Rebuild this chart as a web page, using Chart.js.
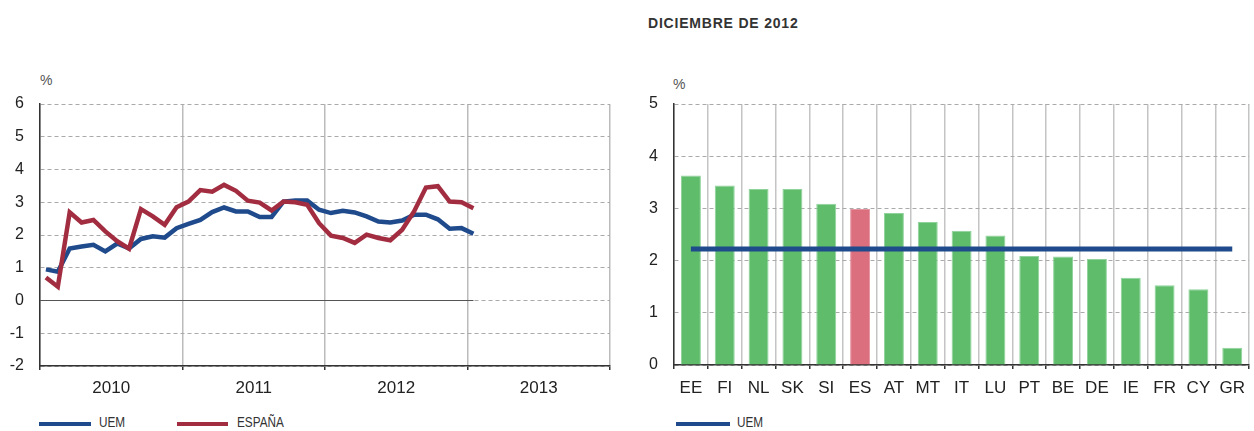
<!DOCTYPE html>
<html>
<head>
  <meta charset="utf-8">
  <title>Inflación UEM / España</title>
  <script src="https://cdn.jsdelivr.net/npm/chart.js"></script>
  <style>
    body { margin: 0; background: #fff; width: 1254px; height: 431px; position: relative; overflow: hidden;
           font-family: "Liberation Sans", Arial, sans-serif; color: #222; }
    canvas { position: absolute; top: 0; }
    .txt { position: absolute; white-space: nowrap; }
    .pct { font-size: 14px; color: #555; }
    .leg { font-size: 14px; color: #333; transform: scaleX(0.84); transform-origin: left center; }
    .sw { position: absolute; height: 4px; }
  </style>
</head>
<body>
  <div class="txt" style="left:648px; top:15px; font-size:14px; font-weight:bold; color:#333; letter-spacing:0.8px;">DICIEMBRE DE 2012</div>
  <div class="txt pct" style="left:40px; top:72px;">%</div>
  <div class="txt pct" style="left:673px; top:76px;">%</div>

  <canvas id="evolucion" width="625" height="400" style="left:0px;"></canvas>
  <canvas id="paises" width="624" height="400" style="left:630px;"></canvas>

  <div class="sw" style="left:39px; top:422px; width:52px; background:#1f4a8c;"></div>
  <div class="txt leg" style="left:99px; top:414px;">UEM</div>
  <div class="sw" style="left:177px; top:422px; width:51px; background:#a32d40;"></div>
  <div class="txt leg" style="left:237px; top:414px;">ESPAÑA</div>
  <div class="sw" style="left:676px; top:422px; width:54px; background:#1f4a8c;"></div>
  <div class="txt leg" style="left:737px; top:414px;">UEM</div>

  <script>
    // serie mensual, ene 2010 - ene 2013
    const anios = ['2010', '2011', '2012', '2013'];
    const uem = [0.95, 0.88, 1.59, 1.65, 1.70, 1.50, 1.74, 1.59, 1.88, 1.96, 1.92, 2.21,
                 2.34, 2.46, 2.70, 2.84, 2.72, 2.72, 2.55, 2.55, 3.02, 3.05, 3.05, 2.77,
                 2.67, 2.74, 2.69, 2.57, 2.41, 2.38, 2.44, 2.62, 2.62, 2.48, 2.19, 2.21,
                 2.04];
    const espana = [0.70, 0.42, 2.69, 2.38, 2.46, 2.11, 1.81, 1.58, 2.79, 2.57, 2.31, 2.85,
                    3.02, 3.37, 3.32, 3.53, 3.35, 3.05, 2.99, 2.75, 3.02, 3.00, 2.92, 2.36,
                    1.98, 1.91, 1.76, 2.01, 1.91, 1.84, 2.16, 2.72, 3.45, 3.49, 3.02, 3.00,
                    2.82];

    // diciembre de 2012 por país
    const paises = ['EE', 'FI', 'NL', 'SK', 'SI', 'ES', 'AT', 'MT', 'IT', 'LU', 'PT', 'BE', 'DE', 'IE', 'FR', 'CY', 'GR'];
    const tasaDic = [3.63, 3.44, 3.37, 3.37, 3.09, 2.99, 2.91, 2.74, 2.57, 2.48, 2.09, 2.08, 2.03, 1.67, 1.53, 1.45, 0.33];
    const uemDic = [2.22, 2.22, 2.22, 2.22, 2.22, 2.22, 2.22, 2.22, 2.22, 2.22, 2.22, 2.22, 2.22, 2.22, 2.22, 2.22, 2.22];

    const azul = '#1f4a8c', granate = '#a32d40', verde = '#5ebc6b', rosa = '#db6f7e';
    const tickFont = { family: '"Liberation Sans", Arial, sans-serif', size: 16 };
    const catFont = { family: '"Liberation Sans", Arial, sans-serif', size: 17 };

    const aPuntos = arr => arr.map((v, i) => ({ x: i + 0.5, y: v }));

    new Chart(document.getElementById('evolucion'), {
      type: 'line',
      data: {
        datasets: [
          { label: 'ESPAÑA', data: aPuntos(espana), borderColor: granate, borderWidth: 4.5, pointRadius: 0, tension: 0, order: 0 },
          { label: 'UEM', data: aPuntos(uem), borderColor: azul, borderWidth: 4.5, pointRadius: 0, tension: 0, order: 1 },
          { label: 'cero', data: [{ x: 0, y: 0 }, { x: uem.length - 0.5, y: 0 }], borderColor: '#555', borderWidth: 1.2, pointRadius: 0, order: 2 }
        ]
      },
      options: {
        responsive: false,
        animation: false,
        layout: { padding: { top: 104, right: 15, left: 0, bottom: 0 } },
        plugins: { legend: { display: false }, tooltip: { enabled: false } },
        scales: {
          x: {
            type: 'linear', min: 0, max: 48,
            ticks: { stepSize: 12, display: false },
            grid: { color: '#bbb', lineWidth: 1.5, tickLength: 4, tickColor: '#333', tickWidth: 1.5 },
            border: { color: '#333', width: 1.5 },
            afterFit: s => { s.height = 0; }
          },
          x2: {
            type: 'linear', min: 0, max: 48, position: 'bottom',
            afterBuildTicks: s => { s.ticks = [6, 18, 30, 42].map(v => ({ value: v })); },
            ticks: { callback: (v, i) => anios[i], font: catFont, color: '#222', padding: 12, maxRotation: 0 },
            grid: { display: false, drawTicks: false },
            border: { display: false },
            afterFit: s => { s.height = 34; }
          },
          y: {
            min: -2, max: 6,
            ticks: { stepSize: 1, font: tickFont, color: '#222', padding: 16 },
            grid: { color: '#aaa', lineWidth: 1, drawTicks: false },
            border: { color: '#333', width: 1.5, dash: [4, 3] },
            afterFit: s => { s.width = 40; }
          }
        }
      }
    });

    new Chart(document.getElementById('paises'), {
      data: {
        labels: paises,
        datasets: [
          { type: 'line', label: 'UEM', data: uemDic, borderColor: azul, borderWidth: 5, pointRadius: 0, order: 0 },
          { type: 'bar', label: 'Dic 2012', data: tasaDic,
            backgroundColor: paises.map(p => p === 'ES' ? rosa : verde),
            borderColor: paises.map(p => p === 'ES' ? '#e595a0' : '#8fd39a'),
            borderWidth: 1, barPercentage: 0.59, categoryPercentage: 1, order: 1 }
        ]
      },
      options: {
        responsive: false,
        animation: false,
        layout: { padding: { top: 104, right: 0, left: 0, bottom: 0 } },
        plugins: { legend: { display: false }, tooltip: { enabled: false } },
        scales: {
          x: {
            type: 'category', offset: true,
            ticks: { font: catFont, color: '#222', padding: 9, maxRotation: 0, autoSkip: false },
            grid: { offset: true, color: '#c4c4c4', lineWidth: 1.5, tickLength: 4, tickColor: '#333', tickWidth: 1.5 },
            border: { color: '#333', width: 1.5 },
            afterFit: s => { s.height = 35; }
          },
          y: {
            min: 0, max: 5,
            ticks: { stepSize: 1, font: tickFont, color: '#222', padding: 16 },
            grid: { color: '#aaa', lineWidth: 1, drawTicks: false },
            border: { color: '#333', width: 1.5, dash: [4, 3] },
            afterFit: s => { s.width = 44; }
          }
        }
      }
    });
  </script>
</body>
</html>
